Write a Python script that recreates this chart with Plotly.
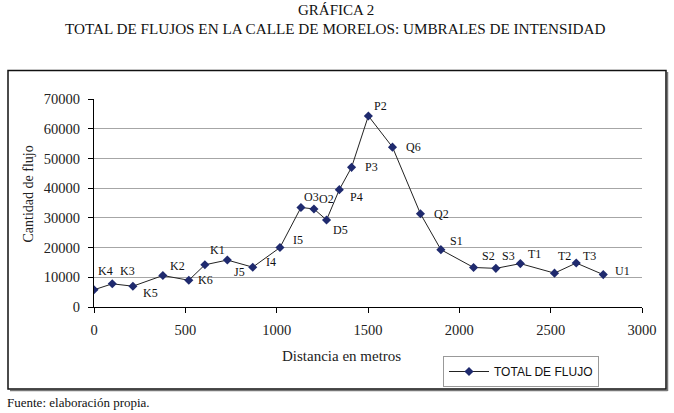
import plotly.graph_objects as go

# Data
labels = ["K4", "K3", "K5", "K2", "K6", "K1", "J5", "I4", "I5", "O3", "O2", "D5",
          "P4", "P3", "P2", "Q6", "Q2", "S1", "S2", "S3", "T1", "T2", "T3", "U1"]
distancia = [0, 100, 213, 377, 519, 607, 730, 869, 1018, 1133, 1204, 1273,
             1343, 1410, 1502, 1634, 1787, 1899, 2078, 2200, 2334, 2521, 2640, 2788]
flujo = [5800, 7800, 7000, 10600, 9000, 14200, 15800, 13400, 20000, 33500, 33000, 29300,
         39500, 47000, 64300, 53800, 31400, 19300, 13300, 13000, 14600, 11400, 14800, 10900]
x_ticks = [0, 500, 1000, 1500, 2000, 2500, 3000]
y_ticks = [0, 10000, 20000, 30000, 40000, 50000, 60000, 70000]

# Label offsets (pixels): right, down
label_dx = [11, 15, 18, 15, 17, 13, 12, 18, 18, 11, 13, 14,
            17, 20, 12, 21, 21, 16, 15, 13, 14, 10, 13, 19]
label_dy = [-19, -13, 7, -10, 0, -15, 12, -5, -8, -10, -10, 10,
            7, 0, -10, 0, 0, -9, -11, -12, -10, -17, -7, -4]

W, H = 674, 413
L, R, T, B = 94, 642, 99, 307  # plot area in pixels


def px(xp):
    return (xp - L) / (R - L)


def py(yp):
    return (B - yp) / (B - T)


serif = "Liberation Serif"
navy = "#1F2A6E"

fig = go.Figure()
fig.add_trace(go.Scatter(
    x=distancia, y=flujo, mode="lines+markers", name="TOTAL DE FLUJO",
    line=dict(color="#222222", width=1),
    marker=dict(symbol="diamond", size=7, color=navy),
))

annotations = []
for lab, xv, yv, dx, dy in zip(labels, distancia, flujo, label_dx, label_dy):
    annotations.append(dict(x=xv, y=yv, xref="x", yref="y", text=lab, showarrow=False,
                            xshift=dx, yshift=-dy,
                            font=dict(family=serif, size=12, color="#111111")))

annotations += [
    dict(x=px(336), y=py(10), xref="paper", yref="paper", text="GRÁFICA 2", showarrow=False,
         font=dict(family=serif, size=15, color="#111111"), xanchor="center", yanchor="middle"),
    dict(x=px(335), y=py(28), xref="paper", yref="paper",
         text="TOTAL DE FLUJOS EN LA CALLE DE MORELOS: UMBRALES DE INTENSIDAD", showarrow=False,
         font=dict(family=serif, size=15.2, color="#111111"), xanchor="center", yanchor="middle"),
    dict(x=px(27.5), y=py(194), xref="paper", yref="paper", text="Cantidad de flujo",
         showarrow=False, textangle=-90, font=dict(family=serif, size=14, color="#222222"),
         xanchor="center", yanchor="middle"),
    dict(x=px(341), y=py(355.5), xref="paper", yref="paper", text="Distancia en metros",
         showarrow=False, font=dict(family=serif, size=15, color="#222222"),
         xanchor="center", yanchor="middle"),
    dict(x=px(5), y=py(402), xref="paper", yref="paper", text="Fuente: elaboración propia.",
         showarrow=False, font=dict(family=serif, size=13, color="#111111"),
         xanchor="left", yanchor="middle"),
]

shapes = [
    dict(type="line", xref="paper", yref="paper", x0=px(667.5), x1=px(667.5),
         y0=py(391), y1=py(72), line=dict(color="#777777", width=1.5), layer="above"),
    dict(type="line", xref="paper", yref="paper", x0=px(10), x1=px(667.5),
         y0=py(390.5), y1=py(390.5), line=dict(color="#777777", width=1.5), layer="above"),
    dict(type="rect", xref="paper", yref="paper", x0=px(8), x1=px(666), y0=py(389), y1=py(70.5),
         line=dict(color="#111111", width=1.5), fillcolor="rgba(0,0,0,0)", layer="above"),
]

fig.update_layout(
    width=W, height=H, autosize=False,
    margin=dict(l=L, r=W - R, t=T, b=H - B),
    paper_bgcolor="white", plot_bgcolor="white",
    showlegend=True,
    legend=dict(x=px(443), y=py(356), xanchor="left", yanchor="top",
                bordercolor="#999999", borderwidth=1, bgcolor="white",
                font=dict(family="Liberation Sans", size=12, color="#111111"),
                itemwidth=40, tracegroupgap=0),
    annotations=annotations, shapes=shapes,
    xaxis=dict(range=[0, 3000], tickvals=x_ticks, ticktext=[str(v) for v in x_ticks],
               showline=True, linecolor="#000000", linewidth=1,
               ticks="outside", ticklen=5, tickcolor="#000000",
               showgrid=False, zeroline=False, ticklabelstandoff=5,
               tickfont=dict(family=serif, size=14.5, color="#222222")),
    yaxis=dict(range=[0, 70000], tickvals=y_ticks, ticktext=[str(v) for v in y_ticks],
               showline=True, linecolor="#000000", linewidth=1,
               ticks="outside", ticklen=5, tickcolor="#000000",
               showgrid=True, gridcolor="#A6A6A6", gridwidth=1, zeroline=False,
               ticklabelstandoff=5,
               tickfont=dict(family=serif, size=14.5, color="#222222")),
)

fig.write_html("out.html", config={"displayModeBar": False},
               post_script="document.body.style.margin='0px';"
                           "document.body.style.overflow='hidden';")
